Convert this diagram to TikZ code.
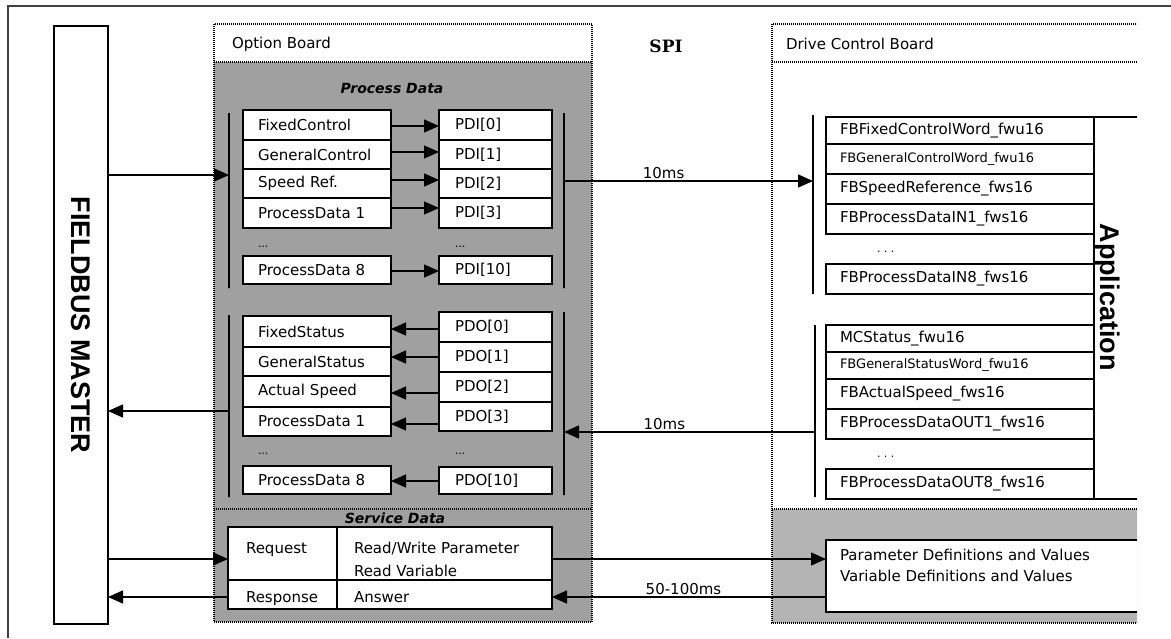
\documentclass[tikz,border=0pt]{standalone}
\usepackage{fontspec}
\setmainfont{DejaVu Sans}
\newfontfamily\lblfont{Liberation Sans}
\newfontfamily\spifont{DejaVu Serif}
\usetikzlibrary{arrows.meta}
\definecolor{obgray}{HTML}{A0A0A0}
\definecolor{dgray}{HTML}{B4B4B4}
\definecolor{framec}{HTML}{404040}
\begin{document}
\begin{tikzpicture}[x=1pt,y=-1pt,
  every node/.style={inner sep=0pt, outer sep=0pt},
  txt/.style={font=\fontsize{15}{18}\selectfont},
  cell/.style={draw=black, line width=1.2pt, fill=white, anchor=north west, align=left, font=\fontsize{15}{18}\selectfont},
  lcell/.style={cell, minimum width=148pt, inner xsep=15pt, text width=118pt},
  pcell/.style={cell, minimum width=113pt, inner xsep=16pt, text width=81pt},
  fcell/.style={cell, minimum width=268pt, inner xsep=14pt, text width=240pt},
  scell/.style={draw=black, line width=1.2pt, fill=white, anchor=north west},
  bar/.style={draw=black, line width=1.6pt, minimum width=0pt},
  dotl/.style={draw=black, line width=1.1pt, dash pattern=on 1pt off 1pt},
  arr/.style={line width=1.4pt, -{Triangle[length=15pt,width=13pt]}},
  bigtxt/.style={font=\lblfont\bfseries\fontsize{27}{27}\selectfont, rotate=-90},
  ttl/.style={font=\bfseries\itshape\fontsize{14}{16}\selectfont},
  dots/.style={font=\fontsize{11}{12}\selectfont, anchor=west},
]
\useasboundingbox (0,0) rectangle (1171,638);
\fill[white] (0,0) rectangle (1171,638);
% outer frame
\draw[framec, line width=1.5pt] (8,638) -- (8,6) -- (1171,6);

% Fieldbus master
\node[draw=black, line width=1.3pt, anchor=north west, minimum width=54pt, minimum height=598pt] (fm) at (54,26) {};
\node[bigtxt] (fmt) at (fm.center) {FIELDBUS MASTER};

% Option board
\fill[obgray] (214,62) rectangle (592,622);
\node[dotl, anchor=north west, minimum width=378pt, minimum height=598pt] (ob) at (214,24) {};
\draw[dotl] (214,62) -- (592,62);
\draw[dotl] (214,509) -- (592,509);
\node[txt, anchor=west] (obt) at (232,44) {Option Board};
\node[ttl] (pdt) at (392,88) {Process Data};
\node[ttl] (sdt) at (395,518) {Service Data};

% SPI
\node[font=\spifont\bfseries\fontsize{17}{20}\selectfont] (spi) at (666,46) {SPI};

% process data in
\node[bar, minimum height=175pt] (lb1) at (229,200.5) {};
\node[bar, minimum height=175pt] (rb1) at (564,200.5) {};
\node[lcell, minimum height=30pt] (fc) at (243,110) {FixedControl};
\node[lcell, minimum height=29pt] (gc) at (243,140) {GeneralControl};
\node[lcell, minimum height=29pt] (sr) at (243,169) {Speed Ref.};
\node[lcell, minimum height=30pt] (pa1) at (243,198) {ProcessData 1};
\node[lcell, minimum height=28pt] (pa8) at (243,256) {ProcessData 8};
\node[pcell, minimum height=30pt] (pdi0) at (439,110) {PDI[0]};
\node[pcell, minimum height=29pt] (pdi1) at (439,140) {PDI[1]};
\node[pcell, minimum height=29pt] (pdi2) at (439,169) {PDI[2]};
\node[pcell, minimum height=30pt] (pdi3) at (439,198) {PDI[3]};
\node[pcell, minimum height=28pt] (pdi10) at (439,256) {PDI[10]};
\node[dots] (da) at (258,247) {...};
\node[dots] (db) at (455,247) {...};

% process data out
\node[bar, minimum height=182pt] (lb2) at (229,406) {};
\node[bar, minimum height=183pt] (rb2) at (564,403.5) {};
\node[lcell, minimum height=31pt] (fs) at (243,316) {FixedStatus};
\node[lcell, minimum height=29pt] (gs) at (243,347) {GeneralStatus};
\node[lcell, minimum height=31pt] (as) at (243,376) {Actual Speed};
\node[lcell, minimum height=29pt] (pb1) at (243,407) {ProcessData 1};
\node[lcell, minimum height=28pt] (pb8) at (243,466) {ProcessData 8};
\node[pcell, minimum height=30pt] (pdo0) at (439,312) {PDO[0]};
\node[pcell, minimum height=30pt] (pdo1) at (439,342) {PDO[1]};
\node[pcell, minimum height=30pt] (pdo2) at (439,372) {PDO[2]};
\node[pcell, minimum height=29pt] (pdo3) at (439,402) {PDO[3]};
\node[pcell, minimum height=27pt] (pdo10) at (439,467) {PDO[10]};
\node[dots] (dc) at (258,454) {...};
\node[dots] (dd) at (455,454) {...};

% service data table
\node[scell, minimum width=109pt, minimum height=53pt] (req) at (228,527) {};
\node[scell, minimum width=215pt, minimum height=53pt] (rw) at (337,527) {};
\node[scell, minimum width=109pt, minimum height=29pt] (resp) at (228,580) {};
\node[scell, minimum width=215pt, minimum height=29pt] (ans) at (337,580) {};
\node[txt, anchor=base west] (reqt) at (246,553) {Request};
\node[txt, anchor=base west] (rwt1) at (354,553) {Read/Write Parameter};
\node[txt, anchor=base west] (rwt2) at (354,576) {Read Variable};
\node[txt, anchor=base west] (respt) at (246,602) {Response};
\node[txt, anchor=base west] (anst) at (354,602) {Answer};

% Drive control board
\begin{scope}
\clip (0,0) rectangle (1137,638);
\fill[dgray] (772,509) rectangle (1190,623);
\draw[dotl] (1190,24) -- (772,24) -- (772,623) -- (1190,623);
\draw[dotl] (772,62) -- (1190,62);
\draw[dotl] (772,509) -- (1190,509);
\node[draw=black, line width=1.2pt, anchor=north west, minimum width=100pt, minimum height=382pt] (app) at (1094,117) {};
\node[fcell, minimum height=27pt] (fb0) at (826,117) {FBFixedControlWord\_fwu16};
\node[fcell, minimum height=30pt, font=\fontsize{13}{15}\selectfont] (fb1) at (826,144) {FBGeneralControlWord\_fwu16};
\node[fcell, minimum height=30pt] (fb2) at (826,174) {FBSpeedReference\_fws16};
\node[fcell, minimum height=30pt] (fb3) at (826,204) {FBProcessDataIN1\_fws16};
\node[fcell, minimum height=30pt] (fb8) at (826,264) {FBProcessDataIN8\_fws16};
\node[fcell, minimum height=27pt] (mc) at (826,325) {MCStatus\_fwu16};
\node[fcell, minimum height=27pt, font=\fontsize{13}{15}\selectfont] (gsw) at (826,352) {FBGeneralStatusWord\_fwu16};
\node[fcell, minimum height=30pt] (asp) at (826,379) {FBActualSpeed\_fws16};
\node[fcell, minimum height=30pt] (po1) at (826,409) {FBProcessDataOUT1\_fws16};
\node[fcell, minimum height=30pt] (po8) at (826,469) {FBProcessDataOUT8\_fws16};
\node[draw=black, line width=1.3pt, fill=white, anchor=north west, minimum width=360pt, minimum height=72pt] (dsb) at (826,540) {};
\end{scope}
\node[txt, anchor=west] (dcbt) at (786,44) {Drive Control Board};
\node[dots] (de) at (877,252) {.\ .\ .};
\node[dots] (df) at (877,457) {.\ .\ .};
\node[bar, minimum height=179pt] (db1) at (813,204.5) {};
\node[bar, minimum height=172pt] (db2) at (815,411) {};
\node[bigtxt, anchor=base] (appt) at (1100,297) {Application};
\node[txt, anchor=base west] (pdv1) at (840,560) {Parameter Definitions and Values};
\node[txt, anchor=base west] (pdv2) at (840,581) {Variable Definitions and Values};

% arrows: process data in
\draw[arr] (fm.east |- 0,175) -- (lb1.west |- 0,175);
\draw[arr] (fc.east |- 0,126) -- (pdi0.west |- 0,126);
\draw[arr] (gc.east |- 0,152) -- (pdi1.west |- 0,152);
\draw[arr] (sr.east |- 0,180) -- (pdi2.west |- 0,180);
\draw[arr] (pa1.east |- 0,208) -- (pdi3.west |- 0,208);
\draw[arr] (pa8.east |- 0,271) -- (pdi10.west |- 0,271);
\draw[arr] (rb1.east |- 0,181) -- node[txt, pos=0.4, above=2pt] (t10a) {10ms} (db1.west |- 0,181);

% arrows: process data out
\draw[arr] (db2.west |- 0,432) -- node[txt, pos=0.6, above=2pt] (t10b) {10ms} (rb2.east |- 0,432);
\draw[arr] (pdo0.west |- 0,329) -- (fs.east |- 0,329);
\draw[arr] (pdo1.west |- 0,357) -- (gs.east |- 0,357);
\draw[arr] (pdo2.west |- 0,393) -- (as.east |- 0,393);
\draw[arr] (pdo3.west |- 0,424) -- (pb1.east |- 0,424);
\draw[arr] (pdo10.west |- 0,481) -- (pb8.east |- 0,481);
\draw[arr] (lb2.west |- 0,411) -- (fm.east |- 0,411);

% arrows: service data
\draw[arr] (fm.east |- 0,559) -- (req.west |- 0,559);
\draw[arr] (rw.east |- 0,559) -- (dsb.west |- 0,559);
\draw[arr] (dsb.west |- 0,597) -- node[txt, pos=0.52, above=2pt] (t50) {50-100ms} (ans.east |- 0,597);
\draw[arr] (resp.west |- 0,597) -- (fm.east |- 0,597);
\end{tikzpicture}
\end{document}
